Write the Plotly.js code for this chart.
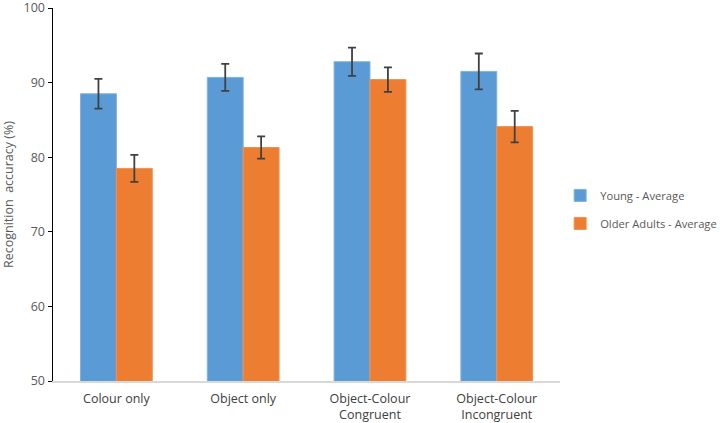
<!DOCTYPE html>
<html>
<head>
<meta charset="utf-8">
<script src="https://cdn.plot.ly/plotly-3.0.1.min.js"></script>
<style>
  html, body { margin: 0; padding: 0; background: #fff; }
  #chart { width: 720px; height: 423px; }
</style>
</head>
<body>
<div id="chart"></div>
<script>
// categories and values
var categories = ['Colour only', 'Object only', 'Object-Colour<br>Congruent', 'Object-Colour<br>Incongruent'];
var yTicks = [50, 60, 70, 80, 90, 100];
var youngAvg = [88.5, 90.7, 92.8, 91.5];
var youngErr = [2.0, 1.8, 1.9, 2.4];
var olderAvg = [78.5, 81.3, 90.4, 84.1];
var olderErr = [1.8, 1.5, 1.65, 2.1];

function doPlot() {
    var errStyle = { type: 'data', visible: true, color: '#404040', thickness: 1.8, width: 4 };

    var young = {
        x: categories,
        y: youngAvg,
        name: 'Young - Average',
        legendgroup: 'a',
        type: 'bar',
        marker: { color: '#5B9BD5', line: { color: '#7FB2E0', width: 1 } },
        error_y: Object.assign({ array: youngErr }, errStyle)
    };
    var older = {
        x: categories,
        y: olderAvg,
        name: 'Older Adults - Average',
        legendgroup: 'b',
        type: 'bar',
        marker: { color: '#ED7D31', line: { color: '#F09050', width: 1 } },
        error_y: Object.assign({ array: olderErr }, errStyle)
    };

    var layout = {
        width: 720,
        height: 423,
        margin: { l: 53, r: 152, t: 8, b: 42 },
        font: { family: 'Open Sans, sans-serif', size: 12, color: '#595959' },
        barmode: 'group',
        bargap: 0.434,
        bargroupgap: 0,
        showlegend: true,
        legend: {
            xref: 'container', yref: 'container',
            x: 0.778, xanchor: 'left',
            y: 0.505, yanchor: 'middle',
            font: { size: 11.2, color: '#595959' },
            traceorder: 'grouped',
            tracegroupgap: 9,
            itemwidth: 30
        },
        xaxis: {
            showline: true,
            linecolor: '#D9D9D9',
            linewidth: 1.5,
            ticks: '',
            ticklabelstandoff: 5,
            tickfont: { size: 12.5, color: '#404040' }
        },
        yaxis: {
            range: [50, 100],
            tickvals: yTicks,
            ticklabeloverflow: 'allow',
            showgrid: false,
            zeroline: false,
            showline: true,
            linecolor: '#000000',
            linewidth: 1.5,
            ticks: 'outside',
            ticklen: 4,
            tickcolor: '#000000',
            tickfont: { size: 12.5, color: '#595959' },
            title: { text: 'Recognition  accuracy (%)', font: { size: 12.5, color: '#595959' }, standoff: 12 }
        },
        plot_bgcolor: '#fff',
        paper_bgcolor: '#fff'
    };

    Plotly.newPlot('chart', [young, older], layout, { displayModeBar: false, staticPlot: true });
}
window.addEventListener('load', doPlot, false);
</script>
</body>
</html>
